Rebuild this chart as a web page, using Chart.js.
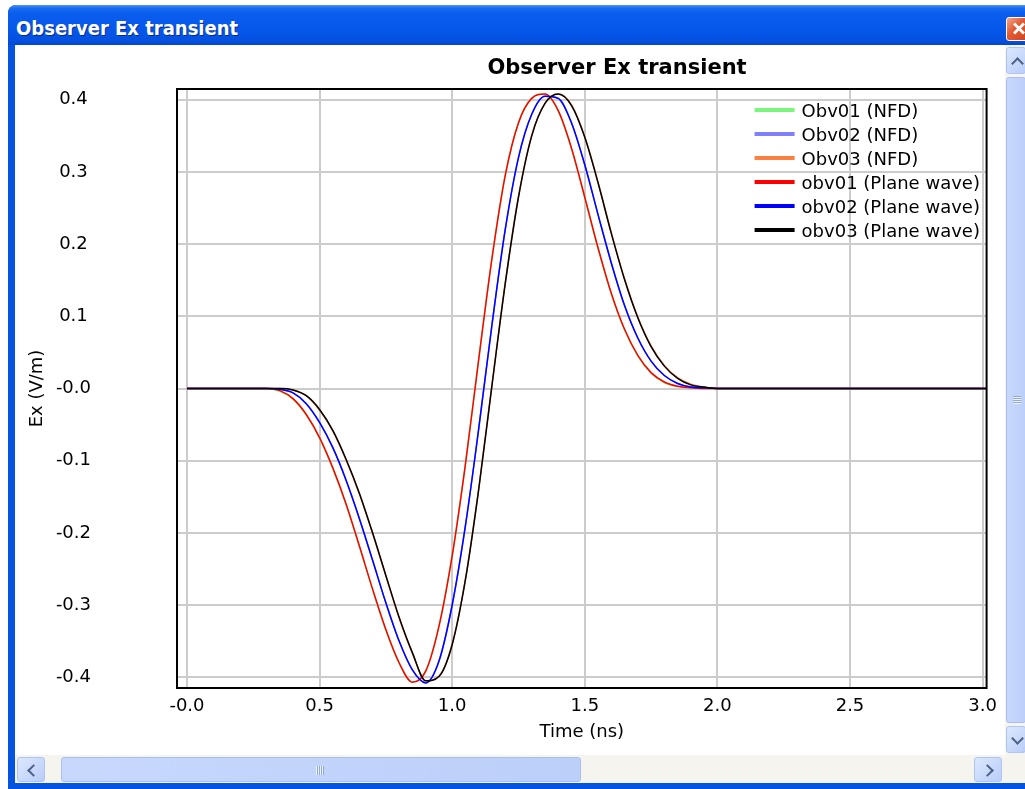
<!DOCTYPE html>
<html>
<head>
<meta charset="utf-8">
<script src="https://cdn.jsdelivr.net/npm/chart.js@4.4.0/dist/chart.umd.min.js"></script>
<style>
html, body { margin: 0; padding: 0; background: #fff; width: 1025px; height: 789px; overflow: hidden; }
#frame { position: absolute; left: 8px; top: 5px; width: 1040px; height: 784px; background: #0553e1; border-top-left-radius: 8px; }
#titlebar { position: absolute; left: 8px; top: 5px; width: 1040px; height: 40px; border-top-left-radius: 8px;
  background: linear-gradient(#4a95f7 0%, #1a6cf0 8%, #0a5ded 20%, #0558ea 60%, #0550df 90%, #0447c8 100%); }
#wintitle { position: absolute; left: 16px; top: 16px; font: bold 20px "DejaVu Sans Condensed", "DejaVu Sans", sans-serif;
  font-stretch: condensed; color: #fff; text-shadow: 1px 1px 0 #0b2a8c; white-space: nowrap; }
#close { position: absolute; left: 1006px; top: 17px; width: 24px; height: 22px; border: 1px solid #fff; border-radius: 3px;
  background: linear-gradient(135deg, #f3a78c 0%, #e35a33 40%, #c9401a 100%); }
#close:before, #close:after { content: ""; position: absolute; left: 5px; top: 9px; width: 14px; height: 3px; background: #fff; }
#close:before { transform: rotate(45deg); }
#close:after { transform: rotate(-45deg); }
#content { position: absolute; left: 15px; top: 45px; width: 1010px; height: 738px; background: #fff; }
#chartbox { position: absolute; left: 15px; top: 45px; width: 990px; height: 710px; }
#vscroll { position: absolute; left: 1005px; top: 45px; width: 20px; height: 710px; background: #f5f4ef; }
#hscroll { position: absolute; left: 15px; top: 755px; width: 990px; height: 28px; background: #f5f4ef; }
#corner { position: absolute; left: 1005px; top: 755px; width: 20px; height: 28px; background: #f5f4ef; }
.btn { position: absolute; background: linear-gradient(135deg, #dce8fe, #b9cdf9); border: 1px solid #b0c4ef; border-radius: 3px; box-sizing: border-box; }
.thumb { position: absolute; background: linear-gradient(90deg, #c8d8fd, #bccff8); border: 1px solid #a9bff0; border-radius: 3px; box-sizing: border-box; }
.chev { position: absolute; width: 7px; height: 7px; border-left: 2px solid #4d6185; border-top: 2px solid #4d6185; }
.grip { position: absolute; background: repeating-linear-gradient(90deg, #eef3ff 0 1px, #8fa8de 1px 2px); }
.gripv { position: absolute; background: repeating-linear-gradient(0deg, #eef3ff 0 1px, #8fa8de 1px 2px); }
</style>
</head>
<body>
<div id="frame"></div>
<div id="titlebar"></div>
<div id="wintitle">Observer Ex transient</div>
<div id="close"></div>
<div id="content"></div>
<div id="chartbox"><canvas id="exChart" width="990" height="710"></canvas></div>
<div id="vscroll">
  <div class="btn" style="left:1px;top:2px;width:20px;height:27px;"><div class="chev" style="left:6px;top:11px;transform:rotate(45deg);"></div></div>
  <div class="thumb" style="left:1px;top:32px;width:20px;height:646px;"><div class="gripv" style="left:6px;top:318px;width:8px;height:8px;"></div></div>
  <div class="btn" style="left:1px;top:681px;width:20px;height:27px;"><div class="chev" style="left:6px;top:7px;transform:rotate(225deg);"></div></div>
</div>
<div id="hscroll">
  <div class="btn" style="left:2px;top:2px;width:28px;height:25px;"><div class="chev" style="left:11px;top:8px;transform:rotate(-45deg);"></div></div>
  <div class="thumb" style="left:46px;top:2px;width:520px;height:25px;"><div class="grip" style="left:254px;top:8px;width:8px;height:9px;"></div></div>
  <div class="btn" style="left:959px;top:2px;width:28px;height:25px;"><div class="chev" style="left:8px;top:8px;transform:rotate(135deg);"></div></div>
</div>
<div id="corner"></div>

<script>
// 데이터 (ns, V/m)
const chartTitle = 'Observer Ex transient';
const xTitle = 'Time (ns)';
const yTitle = 'Ex (V/m)';
const xTicks = [0, 0.5, 1.0, 1.5, 2.0, 2.5, 3.0];
const xTickLabels = ['-0.0', '0.5', '1.0', '1.5', '2.0', '2.5', '3.0'];
const yTicks = [0.4, 0.3, 0.2, 0.1, 0, -0.1, -0.2, -0.3, -0.4];
const yTickLabels = ['0.4', '0.3', '0.2', '0.1', '-0.0', '-0.1', '-0.2', '-0.3', '-0.4'];

const times = [0, 0.25, 0.30, 0.35, 0.40, 0.45, 0.50, 0.55, 0.60, 0.65, 0.70, 0.75, 0.80, 0.85, 0.90, 0.95,
  1.00, 1.05, 1.10, 1.15, 1.20, 1.25, 1.30, 1.35, 1.40, 1.45, 1.50, 1.55, 1.60, 1.65, 1.70, 1.75, 1.80, 1.85,
  1.90, 1.95, 2.00, 2.05, 3.015];

const obv01Nfd = [0, 0, 0, -0.004, -0.015, -0.037, -0.069, -0.111, -0.161, -0.219, -0.279, -0.335, -0.381, -0.407,
  -0.391, -0.329, -0.231, -0.104, 0.041, 0.181, 0.296, 0.369, 0.402, 0.408, 0.384, 0.332, 0.264, 0.194, 0.131,
  0.081, 0.045, 0.021, 0.008, 0.003, 0.001, 0, 0, 0, 0];
const obv02Nfd = [0, 0, 0, -0.001, -0.006, -0.021, -0.047, -0.082, -0.127, -0.180, -0.238, -0.297, -0.350, -0.390,
  -0.408, -0.378, -0.300, -0.190, -0.056, 0.088, 0.220, 0.320, 0.380, 0.405, 0.402, 0.368, 0.310, 0.241, 0.174,
  0.115, 0.070, 0.038, 0.018, 0.007, 0.002, 0.001, 0, 0, 0];
const obv03Nfd = [0, 0, 0, 0, -0.002, -0.010, -0.030, -0.059, -0.099, -0.146, -0.201, -0.260, -0.318, -0.367,
  -0.405, -0.399, -0.354, -0.264, -0.139, 0.005, 0.146, 0.266, 0.351, 0.395, 0.408, 0.393, 0.349, 0.286, 0.216,
  0.152, 0.099, 0.059, 0.032, 0.015, 0.006, 0.002, 0, 0, 0];
const obv01Plane = [0, 0, 0, -0.003, -0.014, -0.036, -0.068, -0.110, -0.160, -0.218, -0.278, -0.334, -0.380, -0.407,
  -0.392, -0.330, -0.232, -0.105, 0.040, 0.180, 0.295, 0.368, 0.402, 0.408, 0.385, 0.333, 0.265, 0.195, 0.132,
  0.082, 0.046, 0.022, 0.009, 0.003, 0.001, 0, 0, 0, 0];
const obv02Plane = [0, 0, 0, -0.001, -0.006, -0.021, -0.047, -0.082, -0.127, -0.180, -0.238, -0.297, -0.350, -0.390,
  -0.408, -0.378, -0.300, -0.190, -0.056, 0.088, 0.220, 0.320, 0.380, 0.405, 0.402, 0.368, 0.310, 0.241, 0.174,
  0.115, 0.070, 0.038, 0.018, 0.007, 0.002, 0.001, 0, 0, 0];
const obv03Plane = [0, 0, 0, 0, -0.002, -0.010, -0.029, -0.058, -0.098, -0.145, -0.200, -0.259, -0.317, -0.366,
  -0.405, -0.399, -0.355, -0.265, -0.140, 0.004, 0.145, 0.265, 0.350, 0.395, 0.408, 0.392, 0.348, 0.285, 0.215,
  0.151, 0.098, 0.058, 0.031, 0.014, 0.005, 0.002, 0, 0, 0];

const seriesLabels = ['Obv01 (NFD)', 'Obv02 (NFD)', 'Obv03 (NFD)', 'obv01 (Plane wave)', 'obv02 (Plane wave)', 'obv03 (Plane wave)'];
const seriesValues = [obv01Nfd, obv02Nfd, obv03Nfd, obv01Plane, obv02Plane, obv03Plane];
const seriesColors = ['#7cf57c', '#8080ff', '#ff7f40', '#ff0000', '#0000ff', '#000000'];
const drawOrder = [5, 4, 3, 2, 1, 0];

function toPoints(vals) {
    return vals.map((v, i) => ({ x: times[i], y: v }));
}

// 테두리, 제목, 범례
const framePlugin = {
    id: 'framePlugin',
    afterDraw(chart) {
        const ctx = chart.ctx;
        const a = chart.chartArea;
        ctx.save();
        ctx.strokeStyle = '#000';
        ctx.lineWidth = 2;
        ctx.strokeRect(a.left, a.top, a.right - a.left, a.bottom - a.top);

        ctx.fillStyle = '#000';
        ctx.font = 'bold 21px "DejaVu Sans"';
        ctx.textAlign = 'center';
        ctx.textBaseline = 'middle';
        ctx.fillText(chartTitle, 602, 24);

        ctx.font = '18px "DejaVu Sans"';
        ctx.textAlign = 'left';
        chart.data.datasets.forEach((ds, i) => {
            const y = a.top + 23 + i * 24;
            ctx.strokeStyle = ds.borderColor;
            ctx.lineWidth = 4;
            ctx.beginPath();
            ctx.moveTo(a.right - 232, y - 2);
            ctx.lineTo(a.right - 192, y - 2);
            ctx.stroke();
            ctx.fillText(ds.label, a.right - 185, y);
        });
        ctx.restore();
    }
};

document.addEventListener('DOMContentLoaded', function() {
    Chart.defaults.font.family = '"DejaVu Sans"';
    Chart.defaults.font.size = 18;
    Chart.defaults.color = '#000';

    const ctx = document.getElementById('exChart');
    new Chart(ctx, {
        type: 'line',
        data: {
            datasets: seriesLabels.map((lbl, i) => ({
                label: lbl,
                data: toPoints(seriesValues[i]),
                borderColor: seriesColors[i],
                backgroundColor: seriesColors[i],
                borderWidth: 1.5,
                pointRadius: 0,
                fill: false,
                cubicInterpolationMode: 'monotone',
                order: drawOrder[i]
            }))
        },
        options: {
            responsive: false,
            animation: false,
            layout: { padding: { top: 44, right: 16, left: 0, bottom: 0 } },
            plugins: {
                legend: { display: false },
                title: { display: false },
                tooltip: { enabled: false }
            },
            scales: {
                x: {
                    type: 'linear',
                    min: -0.0375,
                    max: 3.015,
                    afterBuildTicks: s => { s.ticks = xTicks.map(v => ({ value: v })); },
                    afterFit: s => { s.height = 67; },
                    ticks: {
                        autoSkip: false,
                        maxRotation: 0,
                        padding: 8,
                        callback: (v, i) => xTickLabels[i]
                    },
                    grid: { color: '#cccccc', lineWidth: 2, drawTicks: false },
                    border: { display: false },
                    title: { display: true, text: xTitle, padding: { top: 4, bottom: 12 } }
                },
                y: {
                    type: 'linear',
                    min: -0.415,
                    max: 0.415,
                    afterBuildTicks: s => { s.ticks = yTicks.map(v => ({ value: v })); },
                    afterFit: s => { s.width = 162; },
                    ticks: {
                        autoSkip: false,
                        crossAlign: 'center',
                        padding: 0,
                        callback: (v, i) => yTickLabels[i]
                    },
                    grid: { color: '#cccccc', lineWidth: 2, drawTicks: true, tickLength: 86, tickColor: 'rgba(0,0,0,0)' },
                    border: { display: false },
                    title: { display: true, text: yTitle, padding: { top: 12, bottom: 0 } }
                }
            }
        },
        plugins: [framePlugin]
    });
});
</script>
</body>
</html>
